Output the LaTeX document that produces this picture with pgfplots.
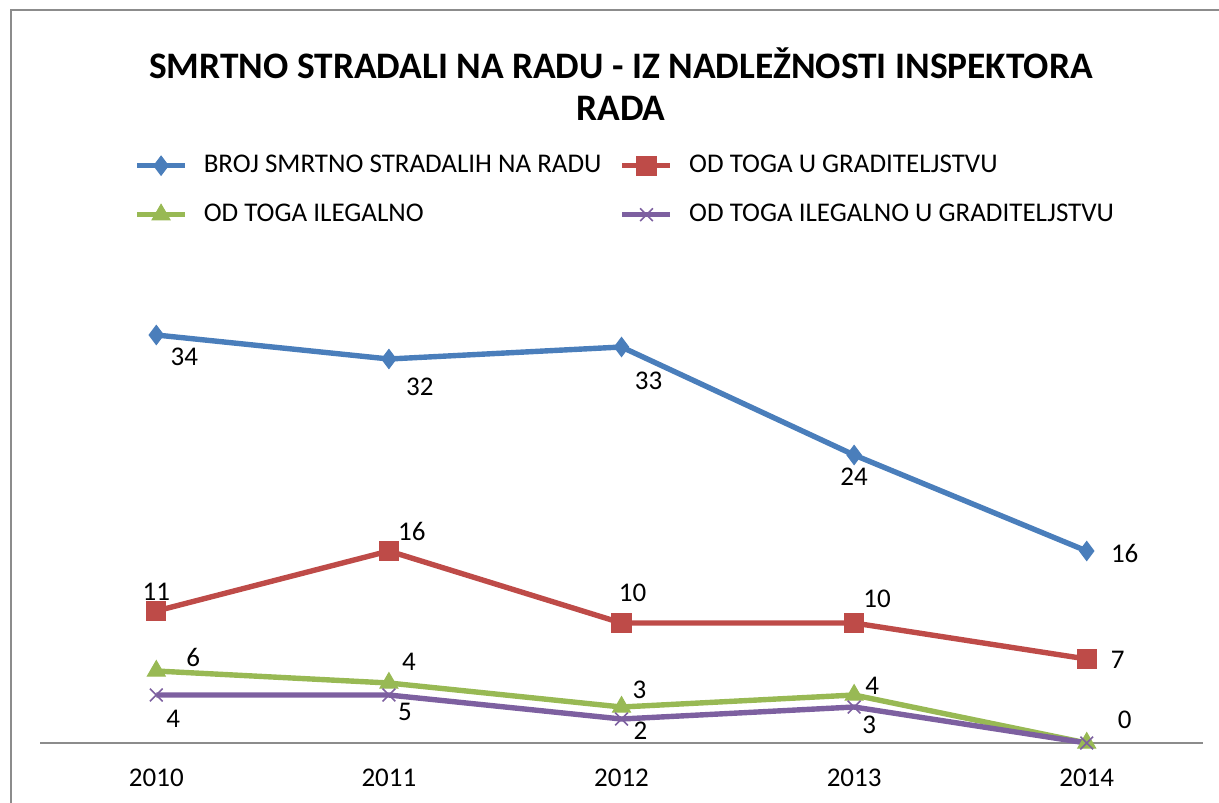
\documentclass[border=0pt]{standalone}
\usepackage{pgfplots}
\pgfplotsset{compat=1.18}
\usepackage{pgfplotstable}
\usepackage{fontspec}
\setmainfont{Carlito}
\definecolor{cblue}{HTML}{4A7EBB}
\definecolor{cred}{HTML}{BE4B48}
\definecolor{cgreen}{HTML}{98B954}
\definecolor{cpurple}{HTML}{7D60A0}
\definecolor{frameg}{HTML}{8C8C8C}

\pgfplotstableread{
x y lab dx dy
0 34 34 14 -11
1 32 32 15.5 -14
2 33 33 13.5 -17
3 24 24 0 -11
4 16 16 19 -1
}\tblue
\pgfplotstableread{
x y lab dx dy
0 11 11 0 9.5
1 16 16 11.5 10
2 10 10 5.5 15
3 10 10 11.5 12
4 7 7 15.5 -0.5
}\tred
\pgfplotstableread{
x y lab dx dy
0 6 6 18.5 7
1 5 4 10 10.5
2 3 3 9 8.5
3 4 4 9 4.5
4 0 0 19 11.5
}\tgreen
\pgfplotstableread{
x y lab dx dy
0 4 4 8.5 -12
1 4 5 8 -8.5
2 2 2 9.5 -6
3 3 3 7.5 -9
4 0 {} 0 0
}\tpurple

\pgfplotsset{
  lbl/.style={
    nodes near coords,
    point meta=explicit symbolic,
    visualization depends on={\thisrow{dx}\as\dx},
    visualization depends on={\thisrow{dy}\as\dy},
    nodes near coords style={anchor=center, inner sep=0pt, text=black,
      font=\fontsize{13.5bp}{15bp}\selectfont, xshift=\dx*1bp, yshift=\dy*1bp},
  },
}

\begin{document}
\begin{tikzpicture}[x=1bp,y=1bp]
\begin{axis}[
  scale only axis, width=581.5bp, height=240bp,
  xmin=-0.5, xmax=4.5, ymin=0, ymax=40,
  axis y line=none,
  axis x line*=bottom,
  x axis line style={draw=frameg, line width=0.8bp, -},
  xtick={0,1,2,3,4},
  xticklabels={2010,2011,2012,2013,2014},
  major tick length=0pt,
  xticklabel style={font=\fontsize{13.5bp}{15bp}\selectfont, text=black, yshift=-9.5bp},
  /pgf/number format/assume math mode=true,
  clip=false,
  legend columns=2,
  legend cell align=left,
  legend image code/.code={\draw[mark repeat=2,mark phase=2] plot coordinates {(0bp,0bp) (12bp,0bp) (24bp,0bp)};},
  legend style={draw=none, fill=none, inner sep=0pt,
    at={(0.0808,1.2296)}, anchor=north west,
    font=\fontsize{13.5bp}{15bp}\selectfont,
    nodes={inner sep=0pt, text height=9.5bp, text depth=3bp},
    row sep=12bp,
    /tikz/every odd column/.append style={column sep=8bp},
    /tikz/every even column/.append style={column sep=0bp},
  },
]
\coordinate (O) at (axis cs:-0.5,0);
\addplot[cblue, line width=2.7bp, mark=diamond*, mark size=4.8bp, mark options={solid, fill=cblue, line width=0.5bp}, lbl] table[x=x, y=y, meta=lab]{\tblue};
\addlegendentry{\makebox[208bp][l]{BROJ SMRTNO STRADALIH NA RADU}}
\addplot[cred, line width=2.7bp, mark=square*, mark size=4.8bp, mark options={solid, fill=cred, line width=0.5bp}, lbl] table[x=x, y=y, meta=lab]{\tred};
\addlegendentry{OD TOGA U GRADITELJSTVU}
\addplot[cgreen, line width=2.7bp, mark=triangle*, mark size=5.2bp, mark options={solid, fill=cgreen, line width=0.5bp}, lbl] table[x=x, y=y, meta=lab]{\tgreen};
\addlegendentry{\makebox[208bp][l]{OD TOGA ILEGALNO}}
\addplot[cpurple, line width=2.7bp, mark=x, mark size=4.5bp, mark options={solid, line width=0.8bp}, lbl] table[x=x, y=y, meta=lab]{\tpurple};
\addlegendentry{OD TOGA ILEGALNO U GRADITELJSTVU}
\end{axis}
\draw[frameg, line width=1bp] ([shift={(-14.5,-49.5)}]O) rectangle ([shift={(630,366.5)}]O);
\node[font=\fontsize{18.7bp}{21bp}\selectfont\bfseries, anchor=base] at ([shift={(290.5,332.5)}]O) {SMRTNO STRADALI NA RADU - IZ NADLEŽNOSTI INSPEKTORA};
\node[font=\fontsize{18.7bp}{21bp}\selectfont\bfseries, anchor=base] at ([shift={(290.5,311.5)}]O) {RADA};
\pgfresetboundingbox
\useasboundingbox ([shift={(-20,-29.5)}]O) rectangle ([shift={(589.5,371.5)}]O);
\end{tikzpicture}
\end{document}
